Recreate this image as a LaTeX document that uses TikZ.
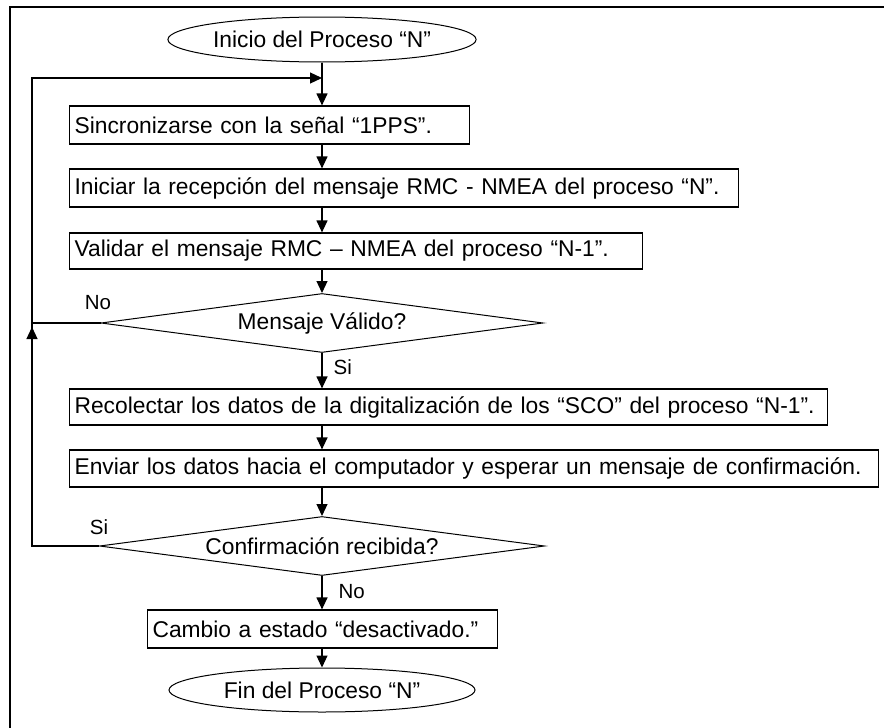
\documentclass[tikz,border=0pt]{standalone}
\usepackage{fontspec}
\setmainfont{Liberation Sans}
\usetikzlibrary{shapes.geometric,arrows.meta}
\begin{document}
\begin{tikzpicture}[x=1pt,y=-1pt,
  every node/.style={font=\fontsize{22.8}{26}\selectfont},
  stepbox/.style={draw, line width=1.2pt, rectangle, anchor=west,
                  inner xsep=5pt, inner ysep=0pt, align=left},
  termbox/.style={draw, line width=1pt, ellipse, inner sep=0pt},
  testbox/.style={draw, line width=1pt, diamond, inner sep=0pt, aspect=7.5},
  flow/.style={line width=1.2pt, -{Triangle[length=12pt,width=11pt]}},
  wire/.style={line width=1.2pt},
  tag/.style={font=\fontsize{20.5}{24}\selectfont, inner sep=0pt}
]
\useasboundingbox (0,0) rectangle (884,728);
% page frame
\draw[line width=2pt] (10,728) -- (10,6.5) -- (884,6.5);

% main column
\coordinate (axis) at (322,0);
\node[termbox, minimum width=305pt, minimum height=45pt] (start) at (322,39.5) {Inicio del Proceso “N”};
\node[stepbox, text width=390pt, minimum height=38pt] (s1) at (69,125) {\mbox{Sincronizarse con la señal “1PPS”.}};
\node[stepbox, text width=659pt, minimum height=38pt] (s2) at (69,188) {\mbox{Iniciar la recepción del mensaje RMC - NMEA del proceso “N”.}};
\node[stepbox, text width=563pt, minimum height=36pt] (s3) at (69,251) {\mbox{Validar el mensaje RMC – NMEA del proceso “N-1”.}};
\node[testbox, minimum width=442pt, minimum height=59pt] (d1) at (322,323) {Mensaje Válido?};
\node[stepbox, text width=748pt, minimum height=36pt] (s4) at (69,407) {\mbox{Recolectar los datos de la digitalización de los “SCO” del proceso “N-1”.}};
\node[stepbox, text width=799pt, minimum height=37pt] (s5) at (69,468.5) {\mbox{Enviar los datos hacia el computador y esperar un mensaje de confirmación.}};
\node[testbox, minimum width=445pt, minimum height=59pt] (d2) at (322,546) {Confirmación recibida?};
\node[stepbox, text width=340pt, minimum height=38pt] (s6) at (147,629) {\mbox{Cambio a estado “desactivado.”}};
\node[termbox, minimum width=306pt, minimum height=44pt] (end) at (322,690) {Fin del Proceso “N”};

% straight connectors
\draw[flow] (start.south) -- (start.south |- s1.north);
\draw[flow] (s1.south -| axis) -- (s2.north -| axis);
\draw[flow] (s2.south -| axis) -- (s3.north -| axis);
\draw[flow] (s3.south -| axis) -- (d1.north);
\draw[flow] (d1.south) -- (d1.south |- s4.north)
  node[tag, anchor=west, pos=0.4, xshift=11pt] (si1) {Si};
\draw[flow] (s4.south -| axis) -- (s5.north -| axis);
\draw[flow] (s5.south -| axis) -- (d2.north);
\draw[flow] (d2.south) -- (d2.south |- s6.north)
  node[tag, anchor=west, pos=0.48, xshift=16pt] (no2) {No};
\draw[flow] (s6.south -| axis) -- (end.north);

% return loop on the left
\coordinate (loopTop) at (32,78);
\coordinate (upTip) at (32,327);
\draw[flow] (d2.west) -| (loopTop) -- (axis |- loopTop);
\draw[wire] (d1.west) -- (d1.west -| loopTop);
\draw[flow] (upTip |- d2.west) -- (upTip);
\node[tag] (no1) at (98,303) {No};
\node[tag] (si2) at (99,527) {Si};
\end{tikzpicture}
\end{document}
